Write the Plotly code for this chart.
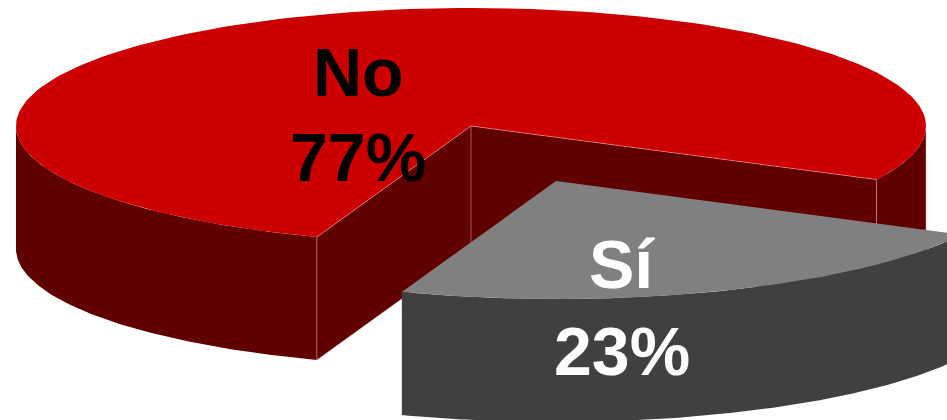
import numpy as np
import plotly.graph_objects as go

labels = ["No", "Sí"]
values = [77, 23]
top_colors = ["#CC0000", "#808080"]
side_colors = ["#600000", "#404040"]
text_colors = ["#000000", "#FFFFFF"]

W, H = 947, 420
CX, CY, RX, RY, DEPTH = 471, 126, 455, 118, 123
OFFSET = (85, 55)          # explosion of the "Sí" slice
SI_START = -109.8          # degrees, elliptical parameter; y axis points down on screen
EDGE = "rgba(255,190,190,0.45)"

sweep = 360 * values[1] / sum(values)
si_a, si_b = SI_START, SI_START + sweep
no_a, no_b = si_b, si_a + 360


def rim(a, b, dx=0, dy=0):
    t = np.radians(np.linspace(a, b, 181))
    return CX + dx + RX * np.cos(t), CY + dy - RY * np.sin(t)


fig = go.Figure()


def poly(x, y, color):
    fig.add_trace(go.Scatter(x=list(x), y=list(y), mode="lines", fill="toself", fillcolor=color,
                             line=dict(width=0, color=color), hoverinfo="skip", showlegend=False))


def edge(x, y, color=EDGE):
    fig.add_trace(go.Scatter(x=list(x), y=list(y), mode="lines", line=dict(width=1, color=color),
                             hoverinfo="skip", showlegend=False))


def wall(a, b, color, dx=0, dy=0):
    x, y = rim(a, b, dx, dy)
    poly(np.r_[x, x[::-1]], np.r_[y, (y + DEPTH)[::-1]], color)


# --- "No" slice: inner cut faces, outer walls, top
xa, ya = rim(no_a, no_a)          # right cut corner
xb, yb = rim(no_b, no_b)          # left cut corner
for px, py in ((xa[0], ya[0]), (xb[0], yb[0])):
    poly([CX, px, px, CX], [CY, py, py + DEPTH, CY + DEPTH], side_colors[0])
wall(no_a, 0, side_colors[0])
wall(-180, no_b - 360, side_colors[0])
x, y = rim(no_a, no_b)
poly(np.r_[CX, x], np.r_[CY, y], top_colors[0])
edge([xb[0], CX, xa[0]], [yb[0], CY, ya[0]])
edge([xb[0], xb[0]], [yb[0], yb[0] + DEPTH])
edge([xa[0], xa[0]], [ya[0], ya[0] + DEPTH])
edge([CX, CX], [CY, CY + DEPTH])
edge([CX + RX, CX + RX], [CY, CY + DEPTH])
edge([xb[0], CX, xa[0]], [yb[0] + DEPTH, CY + DEPTH, ya[0] + DEPTH])

# --- "Sí" slice, exploded
wall(si_a, si_b, side_colors[1], *OFFSET)
x, y = rim(si_a, si_b, *OFFSET)
poly(np.r_[CX + OFFSET[0], x], np.r_[CY + OFFSET[1], y], top_colors[1])

# --- labels
label_pos = [(358, 72, 157), (622, 264, 351)]
for lab, val, col, (tx, ly, py) in zip(labels, values, text_colors, label_pos):
    pct = round(100 * val / sum(values))
    for s, yy in ((lab, ly), (f"{pct}%", py)):
        fig.add_annotation(x=tx, y=yy, text=f"<b>{s}</b>", showarrow=False, xanchor="center", yanchor="middle",
                           font=dict(family="Liberation Sans, Arial, sans-serif", size=68, color=col))

fig.update_layout(width=W, height=H, margin=dict(l=0, r=0, t=0, b=0), paper_bgcolor="white", plot_bgcolor="white",
                  showlegend=False,
                  xaxis=dict(range=[0, W], visible=False, fixedrange=True),
                  yaxis=dict(range=[H, 0], visible=False, fixedrange=True))
fig.write_html("out.html", config=dict(displayModeBar=False),
               post_script="document.body.style.margin='0';document.documentElement.style.overflow='hidden';")
